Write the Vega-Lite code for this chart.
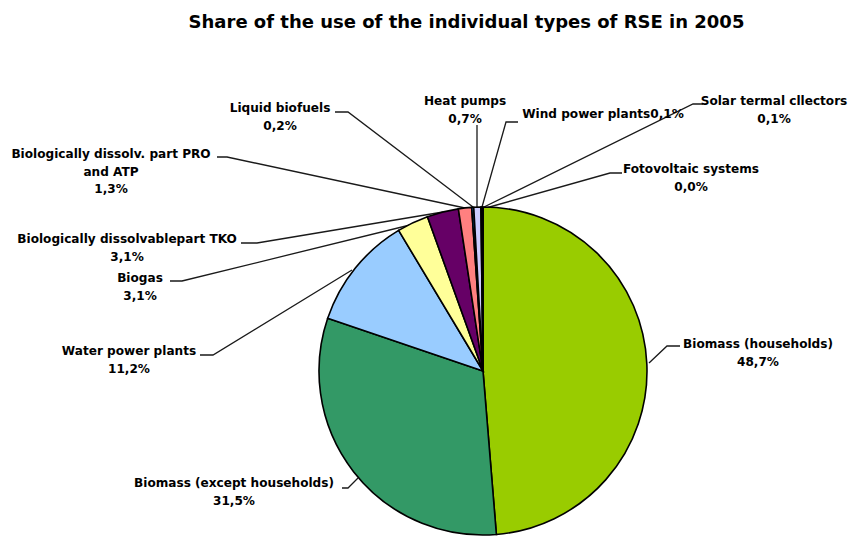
{
  "$schema": "https://vega.github.io/schema/vega-lite/v6.json",
  "width": 849,
  "height": 496,
  "autosize": {"type": "none"},
  "padding": {"top": 40, "left": 0, "right": 0, "bottom": 0},
  "background": "white",
  "config": {"view": {"stroke": null}},
  "title": {
    "text": "Share of the use of the individual  types of RSE in 2005",
    "font": "DejaVu Sans",
    "fontSize": 18,
    "fontWeight": "bold",
    "color": "#000000",
    "anchor": "middle",
    "frame": "group",
    "dx": 42,
    "offset": 8
  },
  "datasets": {
    "slices": [
      {"name": "Biomass (households)", "value": 48.7, "idx": 1},
      {"name": "Biomass (except households)", "value": 31.5, "idx": 2},
      {"name": "Water power plants", "value": 11.2, "idx": 3},
      {"name": "Biogas", "value": 3.1, "idx": 4},
      {"name": "Biologically dissolvable part TKO", "value": 3.1, "idx": 5},
      {"name": "Biologically dissolv. part PRO and ATP", "value": 1.3, "idx": 6},
      {"name": "Liquid biofuels", "value": 0.2, "idx": 7},
      {"name": "Heat pumps", "value": 0.7, "idx": 8},
      {"name": "Wind power plants", "value": 0.1, "idx": 9},
      {"name": "Solar termal collectors", "value": 0.1, "idx": 10},
      {"name": "Fotovoltaic systems", "value": 0.0, "idx": 11}
    ],
    "labels": [
      {"name": "Biomass (households)", "text": "Biomass (households)\n48,7%", "lx": 275, "ly": 33},
      {"name": "Biomass (except households)", "text": "Biomass (except  households)\n31,5%", "lx": -249, "ly": -106},
      {"name": "Water power plants", "text": "Water power plants\n11,2%", "lx": -354, "ly": 26},
      {"name": "Biogas", "text": "Biogas\n3,1%", "lx": -343, "ly": 99},
      {"name": "Biologically dissolvable part TKO", "text": "Biologically dissolvablepart TKO\n3,1%", "lx": -356, "ly": 138},
      {"name": "Biologically dissolv. part PRO and ATP", "text": "Biologically dissolv. part PRO\nand ATP\n1,3%", "lx": -372, "ly": 223},
      {"name": "Liquid biofuels", "text": "Liquid  biofuels\n0,2%", "lx": -203, "ly": 269},
      {"name": "Heat pumps", "text": "Heat  pumps\n0,7%", "lx": -18, "ly": 276},
      {"name": "Wind power plants", "text": "Wind power plants0,1%", "lx": 120, "ly": 263},
      {"name": "Solar termal collectors", "text": "Solar termal cllectors\n0,1%", "lx": 291, "ly": 276},
      {"name": "Fotovoltaic systems", "text": "Fotovoltaic systems\n0,0%", "lx": 208, "ly": 208}
    ],
    "leaders": [
      {"name": "Liquid biofuels", "seq": 1, "px": -148, "py": 259},
      {"name": "Liquid biofuels", "seq": 2, "px": -135, "py": 259},
      {"name": "Liquid biofuels", "seq": 3, "px": -10, "py": 164},
      {"name": "PRO", "seq": 1, "px": -266, "py": 214},
      {"name": "PRO", "seq": 2, "px": -256, "py": 214},
      {"name": "PRO", "seq": 3, "px": -18, "py": 163},
      {"name": "TKO", "seq": 1, "px": -242, "py": 128},
      {"name": "TKO", "seq": 2, "px": -226, "py": 128},
      {"name": "TKO", "seq": 3, "px": -40, "py": 159},
      {"name": "Biogas", "seq": 1, "px": -313, "py": 90},
      {"name": "Biogas", "seq": 2, "px": -301, "py": 90},
      {"name": "Biogas", "seq": 3, "px": -73, "py": 146},
      {"name": "Water", "seq": 1, "px": -283, "py": 16},
      {"name": "Water", "seq": 2, "px": -270, "py": 16},
      {"name": "Water", "seq": 3, "px": -131, "py": 101},
      {"name": "BioExcept", "seq": 1, "px": -141, "py": -117},
      {"name": "BioExcept", "seq": 2, "px": -135, "py": -117},
      {"name": "BioExcept", "seq": 3, "px": -125, "py": -107},
      {"name": "BioHouse", "seq": 1, "px": 197, "py": 25},
      {"name": "BioHouse", "seq": 2, "px": 184, "py": 25},
      {"name": "BioHouse", "seq": 3, "px": 166, "py": 8},
      {"name": "Heat", "seq": 1, "px": -6, "py": 246},
      {"name": "Heat", "seq": 2, "px": -6, "py": 164},
      {"name": "Wind", "seq": 1, "px": 35, "py": 249},
      {"name": "Wind", "seq": 2, "px": 23, "py": 249},
      {"name": "Wind", "seq": 3, "px": -1, "py": 164},
      {"name": "Solar", "seq": 1, "px": 220, "py": 267},
      {"name": "Solar", "seq": 2, "px": 210, "py": 267},
      {"name": "Solar", "seq": 3, "px": 1, "py": 164},
      {"name": "Foto", "seq": 1, "px": 139, "py": 198},
      {"name": "Foto", "seq": 2, "px": 127, "py": 198},
      {"name": "Foto", "seq": 3, "px": 3, "py": 163}
    ]
  },
  "layer": [
    {
      "data": {"name": "leaders"},
      "mark": {"type": "line", "color": "#1a1a1a", "strokeWidth": 1.3, "clip": false},
      "encoding": {
        "x": {"field": "px", "type": "quantitative", "scale": {"domain": [-483, 366], "nice": false, "zero": false}, "axis": null},
        "y": {"field": "py", "type": "quantitative", "scale": {"domain": [-165, 331], "nice": false, "zero": false}, "axis": null},
        "detail": {"field": "name"},
        "order": {"field": "seq"}
      }
    },
    {
      "data": {"name": "slices"},
      "mark": {"type": "arc", "outerRadius": 164, "stroke": "#000000", "strokeWidth": 1.6},
      "encoding": {
        "x": {"datum": 0, "type": "quantitative"},
        "y": {"datum": 0, "type": "quantitative"},
        "theta": {"field": "value", "type": "quantitative", "stack": true},
        "order": {"field": "idx"},
        "color": {
          "field": "name",
          "type": "nominal",
          "legend": null,
          "scale": {
            "domain": ["Biomass (households)", "Biomass (except households)", "Water power plants", "Biogas", "Biologically dissolvable part TKO", "Biologically dissolv. part PRO and ATP", "Liquid biofuels", "Heat pumps", "Wind power plants", "Solar termal collectors", "Fotovoltaic systems"],
            "range": ["#99CC00", "#339966", "#99CCFF", "#FFFF99", "#660066", "#FF8080", "#0066CC", "#CCCCFF", "#000080", "#FF00FF", "#FFFF00"]
          }
        }
      }
    },
    {
      "data": {"name": "labels"},
      "mark": {"type": "text", "font": "DejaVu Sans", "fontSize": 12.1, "fontWeight": "bold", "color": "#000000", "align": "center", "baseline": "top", "lineBreak": "\n", "lineHeight": 17.5},
      "encoding": {
        "x": {"field": "lx", "type": "quantitative"},
        "y": {"field": "ly", "type": "quantitative"},
        "text": {"field": "text"}
      }
    }
  ]
}
